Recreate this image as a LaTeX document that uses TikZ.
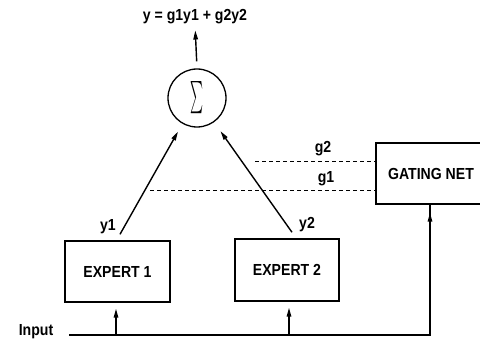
\documentclass[tikz,border=0pt]{standalone}
\usepackage{fontspec}
\setmainfont{Liberation Sans}[BoldFont={Liberation Sans Bold}, BoldFeatures={FakeStretch=0.88}]
\usetikzlibrary{arrows.meta,calc}
\begin{document}
\begin{tikzpicture}[x=1pt,y=-1pt,
  every node/.style={font=\fontsize{16}{16}\bfseries\selectfont, inner sep=0pt},
  box/.style={draw, line width=1.4pt, rectangle},
  arr/.style={line width=1.4pt, -{Triangle[length=9pt,width=4.5pt]}},
  gate/.style={line width=1pt, dash pattern=on 4pt off 3pt}]
\useasboundingbox (0,0) rectangle (480,342);
\node (title) at (195,17) {y = g1y1 + g2y2};
\node[draw, circle, line width=1.3pt, minimum size=58pt] (sum) at (197,98)
  {\resizebox{13pt}{30pt}{$\sum$}};
\node[box, minimum width=105pt, minimum height=61pt] (e1) at (117.5,271.5) {EXPERT 1};
\node[box, minimum width=104pt, minimum height=62pt] (e2) at (287,270) {EXPERT 2};
\node[box, minimum width=110pt, minimum height=61pt] (gn) at (431,173.5) {GATING NET};
\node (inp) at (36,332) {Input};
\node (ly1) at (108,227) {y1};
\node (ly2) at (307,225) {y2};
\node (lg2) at (323,149) {g2};
\node (lg1) at (326,179) {g1};
\coordinate (in0) at (69,335);
\coordinate (g2s) at (255,162);
\coordinate (g1s) at (150,191);
% output
\draw[arr, shorten <=7pt, shorten >=6pt] (sum.north) -- (title.south);
% expert outputs
\draw[arr, shorten >=9pt] ($(e1.north)+(2.5,-6)$) -- (sum);
\draw[arr, shorten >=11pt] ($(e2.north)+(5,-6)$) -- (sum);
% gating outputs
\draw[gate] (g2s) -- (g2s -| gn.west);
\draw[gate] (g1s) -- (g1s -| gn.west);
% input
\draw[line width=1.4pt] (in0) -| ($(gn.south)+(-1,0)$);
\draw[arr, shorten >=8pt] ($(gn.south)+(-1,0)$) ++(0,10) -- ($(gn.south)+(-1,0)$);
\draw[arr, shorten >=6pt] (in0 -| e1.south) ++(-1.5,0) coordinate (a1) -- (a1 |- e1.south);
\draw[arr, shorten >=6pt] (in0 -| e2.south) ++(2,0) coordinate (a2) -- (a2 |- e2.south);
\end{tikzpicture}
\end{document}
